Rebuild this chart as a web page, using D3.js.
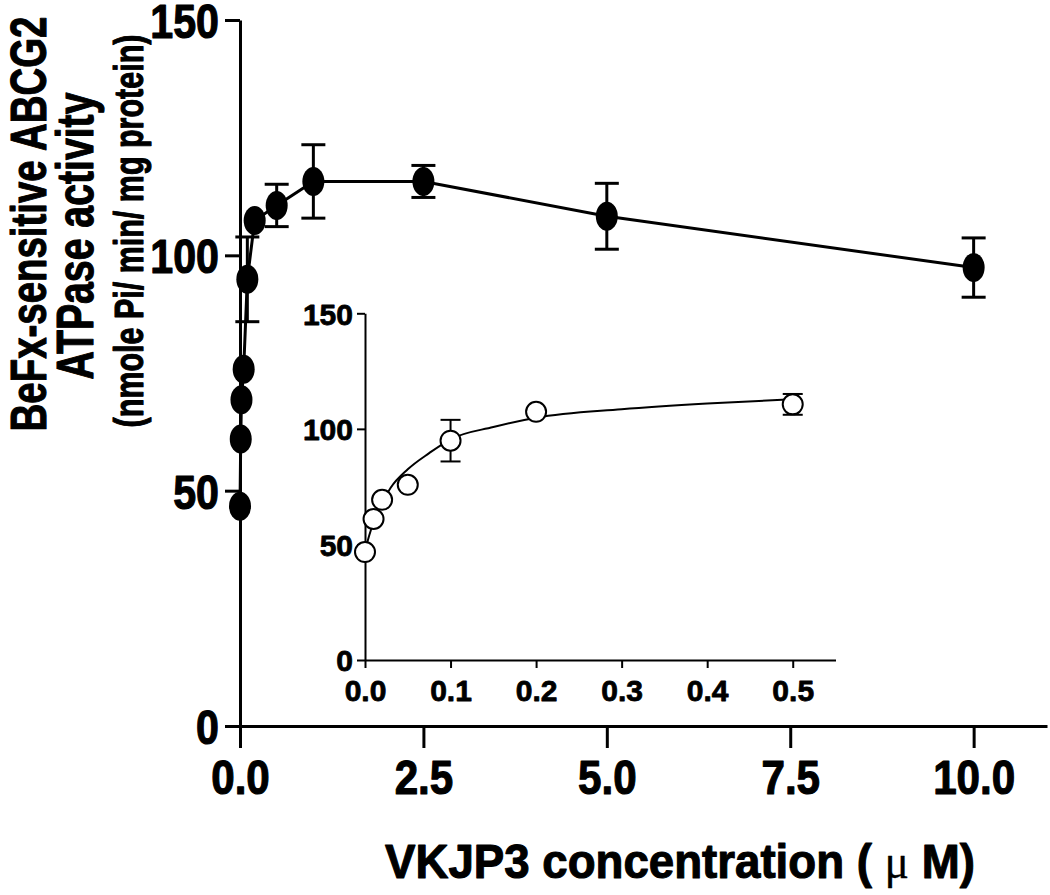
<!DOCTYPE html>
<html>
<head>
<meta charset="utf-8">
<script src="https://cdn.jsdelivr.net/npm/d3@7"></script>
<style>
  html, body { margin: 0; padding: 0; background: #fff; }
  svg { display: block; }
</style>
</head>
<body>
<svg id="chart" width="1050" height="895"></svg>
<script>
// ---------------- data ----------------
const concentration = [0, 0.01, 0.02, 0.05, 0.1, 0.2, 0.5, 1, 2.5, 5, 10];   // µM
const activity      = [46.7, 61.0, 69.3, 75.8, 94.9, 107.4, 110.6, 115.7, 115.7, 108.3, 97.4];
const sem           = [0, 0, 0, 0, 9.0, 0, 4.5, 7.8, 3.4, 7.0, 6.3];

// fitted curve of the inset
const fitConc     = [0, 0.005, 0.01, 0.02, 0.03, 0.05, 0.075, 0.1, 0.15, 0.2, 0.3, 0.4, 0.5];
const fitActivity = [47, 54, 59.5, 68, 74.5, 82.5, 89.5, 95.5, 100.8, 104.8, 108.5, 111, 112.8];

const mainXTicks  = [0, 2.5, 5, 7.5, 10];
const mainYTicks  = [0, 50, 100, 150];
const insetXTicks = [0, 0.1, 0.2, 0.3, 0.4, 0.5];
const insetYTicks = [0, 50, 100, 150];
const insetMaxConc = 0.5;

const yTitleLines = ["BeFx-sensitive ABCG2", "ATPase activity", "(nmole Pi/ min/ mg protein)"];
const xTitleMain = "VKJP3 concentration ( ";
const xTitleMu = "\u03bc";
const xTitleEnd = " M)";

// ---------------- drawing ----------------
const svg = d3.select("#chart");
const FONT = "'Liberation Sans', Arial, Helvetica, sans-serif";

const pts = concentration.map((c, i) => ({x: c, y: activity[i], e: sem[i]}));
const insetPts = pts.filter(d => d.x <= insetMaxConc);
const fitPts = fitConc.map((c, i) => ({x: c, y: fitActivity[i]}));

function condense(sel, k) {
  sel.each(function() {
    const len = this.getComputedTextLength();
    d3.select(this).attr("textLength", len * k).attr("lengthAdjust", "spacingAndGlyphs");
  });
}
function heavy(sel, w) {
  sel.attr("stroke", "#000").attr("stroke-width", w).attr("stroke-linejoin", "round");
}

// ---- main plot ----
const x = d3.scaleLinear().domain([0, 11]).range([240, 1047]);
const y = d3.scaleLinear().domain([0, 150]).range([726, 20]);

const xAxisG = svg.append("g")
  .attr("transform", `translate(0,${y(0)})`)
  .call(d3.axisBottom(x).tickValues(mainXTicks).tickFormat(d3.format(".1f"))
        .tickSize(22).tickSizeOuter(0).tickPadding(11));
const yAxisG = svg.append("g")
  .attr("transform", `translate(${x(0)},0)`)
  .call(d3.axisLeft(y).tickValues(mainYTicks).tickFormat(d3.format("d"))
        .tickSize(15).tickSizeOuter(0).tickPadding(6));

[xAxisG, yAxisG].forEach(g => {
  g.selectAll("path.domain, line").attr("stroke", "#000").attr("stroke-width", 3);
  g.selectAll("text").attr("fill", "#000").style("font-family", FONT)
   .style("font-weight", "bold").style("font-size", "49px");
  heavy(g.selectAll("text"), 1.2);
});
xAxisG.selectAll("text").attr("dy", "0.71em");
yAxisG.selectAll("text").attr("dy", "0.36em");
condense(xAxisG.selectAll("text"), 0.86);
condense(yAxisG.selectAll("text"), 0.84);

// main line
svg.append("path").datum(pts)
  .attr("fill", "none").attr("stroke", "#000").attr("stroke-width", 3)
  .attr("d", d3.line().x(d => x(d.x)).y(d => y(d.y)));

// main error bars
const capW = 12;
const eb = svg.append("g").attr("stroke", "#000").attr("stroke-width", 3);
pts.filter(d => d.e > 0).forEach(d => {
  eb.append("line").attr("x1", x(d.x)).attr("x2", x(d.x)).attr("y1", y(d.y - d.e)).attr("y2", y(d.y + d.e));
  [d.y - d.e, d.y + d.e].forEach(v => {
    eb.append("line").attr("x1", x(d.x) - capW).attr("x2", x(d.x) + capW).attr("y1", y(v)).attr("y2", y(v));
  });
});

// main markers
svg.append("g").selectAll("ellipse").data(pts).join("ellipse")
  .attr("cx", d => x(d.x)).attr("cy", d => y(d.y))
  .attr("rx", 11).attr("ry", 14.5).attr("fill", "#000");

// ---- inset ----
const ix = d3.scaleLinear().domain([0, 0.55]).range([365, 835.5]);
const iy = d3.scaleLinear().domain([0, 150]).range([660, 313.3]);

const ixAxisG = svg.append("g")
  .attr("transform", `translate(0,${iy(0)})`)
  .call(d3.axisBottom(ix).tickValues(insetXTicks).tickFormat(d3.format(".1f"))
        .tickSize(8).tickSizeOuter(0).tickPadding(12));
const iyAxisG = svg.append("g")
  .attr("transform", `translate(${ix(0)},0)`)
  .call(d3.axisLeft(iy).tickValues(insetYTicks).tickFormat(d3.format("d"))
        .tickSize(8).tickSizeOuter(0).tickPadding(4));
[ixAxisG, iyAxisG].forEach(g => {
  g.selectAll("path.domain, line").attr("stroke", "#000").attr("stroke-width", 2);
  g.selectAll("text").attr("fill", "#000").style("font-family", FONT)
   .style("font-weight", "bold").style("font-size", "30px");
  heavy(g.selectAll("text"), 0.8);
});
ixAxisG.selectAll("text").attr("dy", "0.71em");
iyAxisG.selectAll("text").attr("dy", "0.36em");

// fitted curve
svg.append("path").datum(fitPts)
  .attr("fill", "none").attr("stroke", "#000").attr("stroke-width", 2)
  .attr("d", d3.line().x(d => ix(d.x)).y(d => iy(d.y)).curve(d3.curveMonotoneX));

// inset error bars
const icap = 10;
const ieb = svg.append("g").attr("stroke", "#000").attr("stroke-width", 2);
insetPts.filter(d => d.e > 0).forEach(d => {
  ieb.append("line").attr("x1", ix(d.x)).attr("x2", ix(d.x)).attr("y1", iy(d.y - d.e)).attr("y2", iy(d.y + d.e));
  [d.y - d.e, d.y + d.e].forEach(v => {
    ieb.append("line").attr("x1", ix(d.x) - icap).attr("x2", ix(d.x) + icap).attr("y1", iy(v)).attr("y2", iy(v));
  });
});

// inset open circles
svg.append("g").selectAll("circle").data(insetPts).join("circle")
  .attr("cx", d => ix(d.x)).attr("cy", d => iy(d.y)).attr("r", 10)
  .attr("fill", "#fff").attr("stroke", "#000").attr("stroke-width", 2);

// ---- titles ----
const lineSpec = [
  {t: yTitleLines[0], base: 45.5, size: 50, len: 415, center: 224},
  {t: yTitleLines[1], base: 93, size: 51, len: 287, center: 236},
  {t: yTitleLines[2], base: 143, size: 41, len: 393, center: 231}
];
lineSpec.forEach(s => {
  const g = svg.append("g");
  const t = g.append("text")
    .attr("x", 0).attr("y", 0)
    .attr("text-anchor", "middle").attr("fill", "#000")
    .style("font-family", FONT).style("font-weight", "bold").style("font-size", s.size + "px")
    .text(s.t);
  heavy(t, 1.1);
  const k = s.len / t.node().getComputedTextLength();
  g.attr("transform", `translate(${s.base},${s.center}) rotate(-90) scale(${k},1)`);
});

// x title: one text, condensed to the measured width with a transform
const xtG = svg.append("g");
const xt = xtG.append("text").attr("x", 0).attr("y", 0)
  .attr("text-anchor", "middle").attr("fill", "#000")
  .style("font-family", FONT).style("font-weight", "bold").style("font-size", "48px");
xt.append("tspan").text(xTitleMain);
xt.append("tspan").style("font-family", "'Liberation Serif', 'Times New Roman', serif")
  .style("font-weight", "normal").text(xTitleMu);
xt.append("tspan").text(xTitleEnd);
heavy(xt, 1.1);
xt.select("tspan:nth-child(2)").attr("stroke-width", 0.3);
const natural = xt.node().getComputedTextLength();
xtG.attr("transform", `translate(680,878) scale(${590 / natural},1)`);
</script>
</body>
</html>
